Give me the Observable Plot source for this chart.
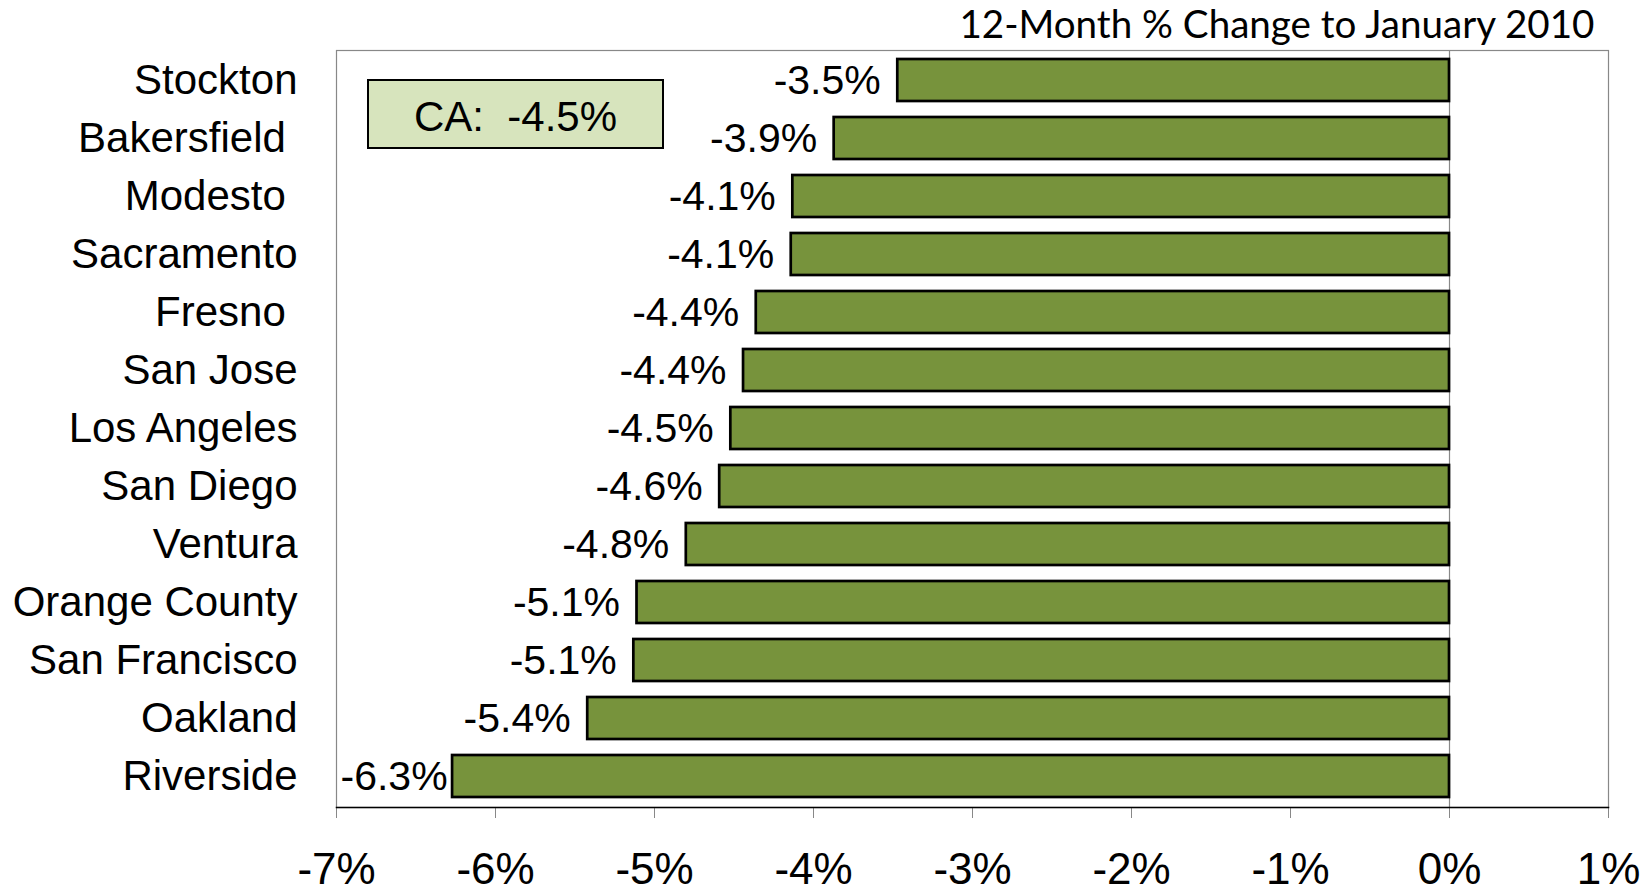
<!DOCTYPE html>
<html>
<head>
<meta charset="utf-8">
<script src="https://cdn.jsdelivr.net/npm/d3@7"></script>
<script src="https://cdn.jsdelivr.net/npm/@observablehq/plot@0.6"></script>
<style>
  html, body { margin: 0; padding: 0; background: #fff; }
  #wrap { position: relative; width: 1650px; height: 896px; overflow: hidden; }
  #ca {
    position: absolute; left: 367px; top: 79px; width: 293px; height: 66px;
    background: #d7e4bd; border: 2px solid #000; box-sizing: content-box;
    font-family: "Liberation Sans", Arial, sans-serif; font-size: 42px;
    display: flex; align-items: center; justify-content: center; white-space: pre;
    padding-top: 0; line-height: 1;
  }
  #ca span { position: relative; top: 3px; }
</style>
</head>
<body>
<div id="wrap"></div>
<script>
const cities = ["Stockton", "Bakersfield ", "Modesto ", "Sacramento", "Fresno ", "San Jose",
  "Los Angeles", "San Diego", "Ventura", "Orange County", "San Francisco", "Oakland", "Riverside"];
const changes = [-3.47, -3.87, -4.13, -4.14, -4.36, -4.44, -4.52, -4.59, -4.80, -5.11, -5.13, -5.42, -6.27];
const xTicks = [-7, -6, -5, -4, -3, -2, -1, 0, 1];
const xDomain = [-7, 1];
const caValue = -4.5;
const title = "12-Month % Change to January 2010";

const data = cities.map((city, i) => ({city, value: changes[i]}));
const fmt = v => `${v.toFixed(1)}%`;
const overflow = d => d.value - 0.8 < xDomain[0];

const chart = Plot.plot({
  width: 1650,
  height: 896,
  marginLeft: 336,
  marginRight: 42,
  marginTop: 50,
  marginBottom: 89,
  style: {fontFamily: "'Liberation Sans', Arial, sans-serif", background: "white", color: "black", overflow: "visible"},
  x: {domain: xDomain, ticks: xTicks, label: null},
  y: {domain: cities, paddingInner: 0.27, paddingOuter: 0.135, label: null},
  marks: [
    Plot.frame({stroke: "#888", strokeWidth: 1.2}),
    Plot.ruleX([0], {stroke: "#888", strokeWidth: 1.2}),
    Plot.barX(data, {x: "value", y: "city", fill: "#77933c", stroke: "black", strokeWidth: 2.7}),
    Plot.text(data.filter(d => !overflow(d)), {x: "value", y: "city", text: d => fmt(d.value),
      textAnchor: "end", dx: -17, fontSize: 41, fill: "black"}),
    Plot.text(data.filter(overflow), {x: () => xDomain[0], y: "city", text: d => fmt(d.value),
      textAnchor: "start", dx: 4, fontSize: 41, fill: "black"}),
    Plot.axisX({ticks: xTicks, tickSize: 11, tickPadding: 34, fontSize: 44, stroke: "#888",
      tickFormat: d => `${d}%`, label: null}),
    Plot.axisY({tickSize: 0, tickPadding: 39, fontSize: 42, label: null,
      tickFormat: d => d.replace(/ $/, "\u00a0")}),
    Plot.frame({anchor: "bottom", stroke: "black", strokeWidth: 1.5}),
    Plot.text([title], {frameAnchor: "top-right", lineAnchor: "top", dx: -14, dy: -40, fontSize: 38.6,
      fontFamily: "Lato", fill: "black"})
  ]
});

const wrap = document.getElementById("wrap");
wrap.appendChild(chart);
const box = document.createElement("div");
box.id = "ca";
const span = document.createElement("span");
span.textContent = `CA:  ${caValue}%`;
box.appendChild(span);
wrap.appendChild(box);
</script>
</body>
</html>
